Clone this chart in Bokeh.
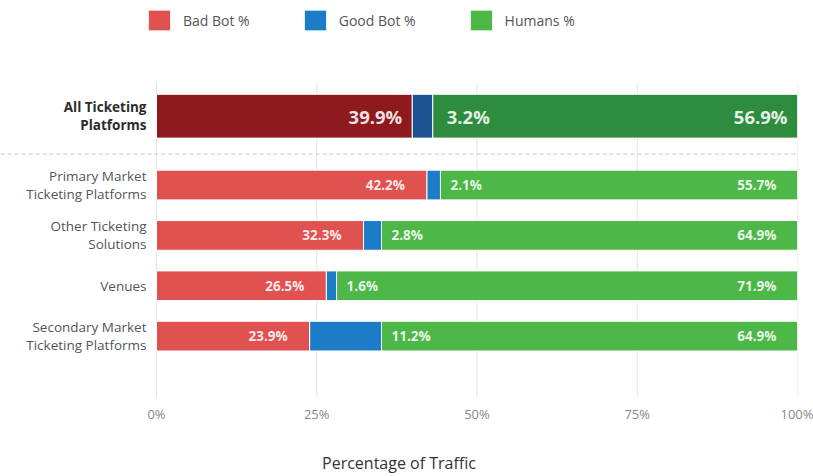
from bokeh.plotting import figure
from bokeh.models import Range1d, FixedTicker, Span, Legend, LegendItem, ColumnDataSource
from bokeh.core.properties import value
from bokeh.embed import file_html
from bokeh.resources import INLINE

# ---- data ----
categories = ["All Ticketing\nPlatforms", "Primary Market\nTicketing Platforms",
              "Other Ticketing\nSolutions", "Venues", "Secondary Market\nTicketing Platforms"]
bad_bot = [39.9, 42.2, 32.3, 26.5, 23.9]
good_bot = [3.2, 2.1, 2.8, 1.6, 11.2]
humans = [56.9, 55.7, 64.9, 71.9, 64.9]
series_names = ["Bad Bot %", "Good Bot %", "Humans %"]
x_ticks = [0, 25, 50, 75, 100]
x_tick_labels = ["0%", "25%", "50%", "75%", "100%"]
x_axis_title = "Percentage of Traffic"

# ---- styling / layout ----
FONT = "Open Sans"
light = ["#E05250", "#1C7CC8", "#4DB848"]
dark = ["#8E1A1D", "#1B5290", "#2E8C3E"]
n = len(categories)
ypos = [0.0] + [1.366 + i for i in range(n - 1)]
heights = [0.87] + [0.59] * (n - 1)
is_top = [i == 0 for i in range(n)]

bad_l = [0.0] * n
bad_r = bad_bot[:]
good_l = bad_r[:]
good_r = [b + g for b, g in zip(bad_bot, good_bot)]
hum_l = good_r[:]
hum_r = [b + g + h for b, g, h in zip(bad_bot, good_bot, humans)]

src = ColumnDataSource(dict(
    y=ypos, h=heights, cat=categories,
    bad_l=bad_l, bad_r=bad_r, good_l=good_l, good_r=good_r, hum_l=hum_l, hum_r=hum_r,
    c_bad=[dark[0] if t else light[0] for t in is_top],
    c_good=[dark[1] if t else light[1] for t in is_top],
    c_hum=[dark[2] if t else light[2] for t in is_top],
    bad_txt=[f"{v}%" for v in bad_bot],
    good_txt=[f"{v}%" for v in good_bot],
    hum_txt=[f"{v}%" for v in humans],
    zero=[0] * n,
    hundred=hum_r,
    cat_style=["bold" if t else "normal" for t in is_top],
    cat_color=["#2b2b2b" if t else "#555555" for t in is_top],
    fs=["18.5px" if t else "13.5px" for t in is_top],
    off_bad=[-10 if t else -22 for t in is_top],
    off_good=[14 if t else 10 for t in is_top],
    off_hum=[-10 if t else -21 for t in is_top],
))

px_per_unit = 6.41
x_left = -156 / px_per_unit
y_bottom = (398 - 116) / 50.5
y_top = (0 - 116) / 50.5

p = figure(width=813, height=476, output_backend="svg", toolbar_location=None,
           x_range=Range1d(x_left, 100), y_range=Range1d(y_bottom, y_top),
           y_axis_location=None, min_border_left=0, min_border_right=16,
           min_border_top=0, min_border_bottom=78, outline_line_color=None)
p.xgrid.visible = False
p.ygrid.visible = False

# gridlines (vertical) at tick positions
grid_top = ypos[0] - heights[0] / 2 - 0.22
p.segment(x0=x_ticks, x1=x_ticks, y0=[grid_top] * len(x_ticks), y1=[y_bottom] * len(x_ticks),
          line_color="#e4e4e4", line_width=1)

# dashed separator
sep = (ypos[0] + heights[0] / 2 + ypos[1] - heights[1] / 2) / 2
p.add_layout(Span(location=sep, dimension="width", line_color="#c9c9c9",
                  line_dash="4 3", line_width=1))

r_bad = p.hbar(y="y", height="h", left="bad_l", right="bad_r", fill_color="c_bad",
               line_color="white", line_width=1, source=src)
r_good = p.hbar(y="y", height="h", left="good_l", right="good_r", fill_color="c_good",
                line_color="white", line_width=1, source=src)
r_hum = p.hbar(y="y", height="h", left="hum_l", right="hum_r", fill_color="c_hum",
               line_color="white", line_width=1, source=src)

# value labels
for xcol, tcol, ocol, align in [("bad_r", "bad_txt", "off_bad", "right"),
                                ("good_r", "good_txt", "off_good", "left"),
                                ("hundred", "hum_txt", "off_hum", "right")]:
    p.text(x=xcol, y="y", text=tcol, x_offset=ocol, text_align=align,
           text_baseline="middle", text_color="white", text_alpha=0.88, text_font_size="fs",
           text_font=value(FONT), text_font_style="bold", source=src)

# category labels
p.text(x="zero", y="y", text="cat", x_offset=-10, text_align="right", text_baseline="middle",
       text_color="cat_color", text_font_style="cat_style", text_font_size="13.5px",
       text_font=value(FONT), text_line_height=1.0, source=src)

# x axis
ax = p.xaxis[0]
ax.ticker = FixedTicker(ticks=x_ticks)
ax.major_label_overrides = {t: l for t, l in zip(x_ticks, x_tick_labels)}
ax.bounds = (x_ticks[0], x_ticks[-1])
ax.axis_line_color = None
ax.major_tick_line_color = None
ax.minor_tick_line_color = None
ax.major_label_standoff = 1
ax.major_label_text_font = FONT
ax.major_label_text_font_size = "13px"
ax.major_label_text_color = "#888888"
ax.axis_label = x_axis_title
ax.axis_label_standoff = 26
ax.axis_label_text_font = FONT
ax.axis_label_text_font_size = "16px"
ax.axis_label_text_font_style = "normal"
ax.axis_label_text_color = "#333333"

legend = Legend(items=[
    LegendItem(label=series_names[0], renderers=[r_bad], index=1),
    LegendItem(label=series_names[1], renderers=[r_good], index=1),
    LegendItem(label=series_names[2], renderers=[r_hum], index=1),
], orientation="horizontal", location=(145, 364), glyph_width=28, glyph_height=26,
    label_standoff=10, spacing=51, padding=0, margin=0, border_line_alpha=0,
    background_fill_alpha=0, label_text_font=FONT, label_text_font_size="14px",
    label_text_color="#555555")
p.add_layout(legend, "center")

open("out.html", "w").write(file_html(p, INLINE))
